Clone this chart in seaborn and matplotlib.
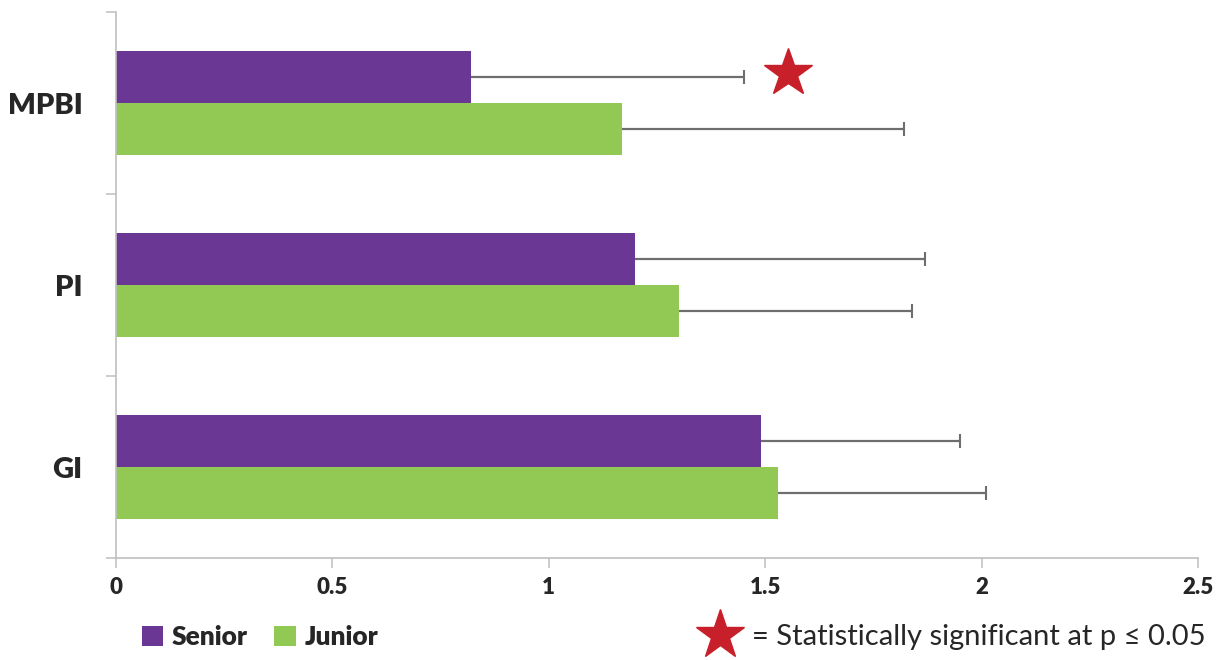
import matplotlib
matplotlib.use("Agg")
import matplotlib.pyplot as plt
from matplotlib.patches import Patch
from matplotlib.lines import Line2D
from matplotlib.ticker import FixedLocator, FuncFormatter
import seaborn as sns
import pandas as pd

categories = ["MPBI", "PI", "GI"]
groups = ["Senior", "Junior"]
senior_vals = [0.82, 1.20, 1.49]
junior_vals = [1.17, 1.30, 1.53]
senior_err = [0.63, 0.67, 0.46]
junior_err = [0.65, 0.54, 0.48]
significant = [True, False, False]
x_ticks = [0, 0.5, 1, 1.5, 2, 2.5]
legend_note = "= Statistically significant at p \u2264 0.05"

colors = {"Senior": "#6A3894", "Junior": "#92C954"}
star_color = "#C8202A"
grid_gray = "#BFBFBF"
err_gray = "#6E6E6E"

sns.set_theme(style="white")
plt.rcParams["font.family"] = ["Lato", "DejaVu Sans"]

df = pd.DataFrame({
    "category": categories * 2,
    "group": ["Senior"] * 3 + ["Junior"] * 3,
    "value": senior_vals + junior_vals,
})
errs = {"Senior": senior_err, "Junior": junior_err}

fig = plt.figure(figsize=(12.24, 6.6), dpi=100)
ax = fig.add_axes([116 / 1224, 1 - 558 / 660, (1198 - 116) / 1224, (558 - 12) / 660])

sns.barplot(data=df, y="category", x="value", hue="group", order=categories,
            hue_order=groups, palette=colors, width=0.57, errorbar=None,
            orient="h", saturation=1, legend=False, ax=ax, linewidth=0)

for gi, g in enumerate(groups):
    cont = ax.containers[gi]
    for ci, bar in enumerate(cont):
        yc = bar.get_y() + bar.get_height() / 2
        val = bar.get_width()
        end = val + errs[g][ci]
        ax.errorbar(val, yc, xerr=[[0], [errs[g][ci]]], fmt="none",
                    ecolor=err_gray, elinewidth=1.6, capsize=0, zorder=4)
        ax.plot(end, yc, marker="|", markersize=10, markeredgewidth=1.5,
                color=err_gray, linestyle="none", zorder=4)
        if g == "Senior" and significant[ci]:
            ax.plot(end + 0.103, yc - 0.02, marker="*", markersize=36,
                    color=star_color, linestyle="none", zorder=5, clip_on=False)

ax.set_xlim(0, 2.5)
ax.set_ylim(2.5, -0.5)
ax.set_xlabel("")
ax.set_ylabel("")
ax.xaxis.set_major_locator(FixedLocator(x_ticks))
ax.xaxis.set_major_formatter(FuncFormatter(lambda v, p: f"{v:g}"))
ax.yaxis.set_minor_locator(FixedLocator([-0.5, 0.5, 1.5, 2.5]))

for s in ["top", "right"]:
    ax.spines[s].set_visible(False)
for s in ["left", "bottom"]:
    ax.spines[s].set_color(grid_gray)
    ax.spines[s].set_linewidth(1.2)

ax.tick_params(axis="x", which="major", direction="out", length=7, width=1.1,
               color=grid_gray, pad=7, labelsize=16, bottom=True)
ax.tick_params(axis="y", which="major", length=0, pad=24, labelsize=21, left=True)
ax.tick_params(axis="y", which="minor", direction="out", length=7, width=1.1,
               color=grid_gray, left=True)
for t in ax.get_xticklabels():
    t.set_fontweight("heavy")
for t in ax.get_yticklabels():
    t.set_fontweight("heavy")

handles = [Patch(facecolor=colors[g], edgecolor="none") for g in groups]
leg1 = fig.legend(handles, groups, loc="center left",
                  bbox_to_anchor=(118 / 1224, 1 - 637 / 660), ncol=2, frameon=False,
                  handlelength=0.8, handleheight=0.8, handletextpad=0.35,
                  columnspacing=1.0, prop={"weight": "heavy", "size": 19})

star_handle = Line2D([], [], marker="*", markersize=37, color=star_color, linestyle="none")
leg2 = fig.legend([star_handle], [legend_note], loc="center right",
                  bbox_to_anchor=(1232 / 1224, 1 - 637 / 660), frameon=False,
                  handlelength=1.0, handletextpad=0.6, prop={"size": 21})

fig.savefig("out.png", dpi=100)
